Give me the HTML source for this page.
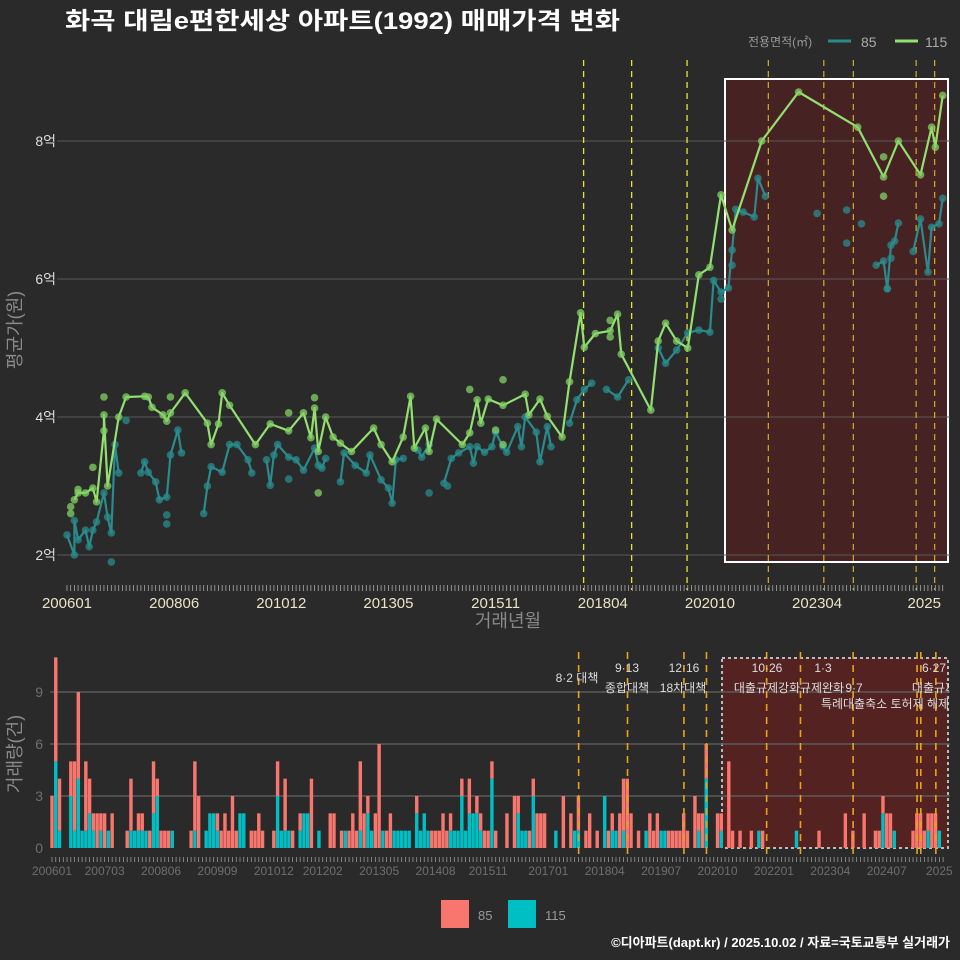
<!DOCTYPE html>
<html><head><meta charset="utf-8">
<style>
html,body{margin:0;padding:0;background:#2b2a2b;}
svg{display:block;font-family:"Liberation Sans","Noto Sans CJK KR",sans-serif;}
</style></head>
<body>
<svg id="chart" width="960" height="960" viewBox="0 0 960 960" xmlns="http://www.w3.org/2000/svg">
<defs><clipPath id="botClip"><rect x="0" y="640" width="949" height="240"/></clipPath></defs>
<rect x="0" y="0" width="960" height="960" fill="#2b2a2b"/>
<text x="65" y="29" fill="#ffffff" font-size="24" font-weight="bold" textLength="555" lengthAdjust="spacingAndGlyphs">화곡 대림e편한세상 아파트(1992) 매매가격 변화</text>
<g>
<text x="748" y="46" fill="#999" font-size="12">전용면적(㎡)</text>
<line x1="828" y1="41" x2="851" y2="41" stroke="#2a8a8c" stroke-width="3"/>
<text x="861" y="47" fill="#aaa" font-size="14">85</text>
<line x1="895" y1="41" x2="918" y2="41" stroke="#92e070" stroke-width="3"/>
<text x="925" y="47" fill="#aaa" font-size="14">115</text>
</g>
<g id="topPanel"></g>
<g id="botPanel"></g>
<g id="botLabels" clip-path="url(#botClip)"></g>
<g>
<rect x="441" y="900" width="28" height="28" fill="#f8766d"/>
<text x="478" y="920" fill="#999" font-size="13">85</text>
<rect x="508" y="900" width="28" height="28" fill="#00bfc4"/>
<text x="545" y="920" fill="#999" font-size="13">115</text>
</g>
<text x="950" y="947" text-anchor="end" fill="#ffffff" font-size="13" font-weight="bold">©디아파트(dapt.kr) / 2025.10.02 / 자료=국토교통부 실거래가</text>
</svg>
<script>
// ---- data (months = months since 2006-01) ----
const priceTicks = [2, 4, 6, 8];
const priceTickLabels = ["2억", "4억", "6억", "8억"];
const topXLabelMonths = [0, 29, 58, 87, 116, 145, 174, 203, 232];
const topXLabels = ["200601","200806","201012","201305","201511","201804","202010","202304","2025"];
const greenMonths = [2,3,5,7,8,10,10,11,14,16,21,22,23,26,27,28,32,38,39,41,42,44,51,55,60,64,66,67,68,70,72,74,77,83,85,88,91,93,94,97,98,100,107,109,111,112,114,118,124,125,128,130,134,136,139,140,143,147,149,150,158,160,162,165,168,171,174,177,180,188,198,214,221,225,231,234,235,237];
const greenValues = [2.8,2.9,2.9,2.97,2.77,3.8,4.03,3.0,4.0,4.29,4.3,4.29,4.14,4.03,3.94,4.06,4.35,3.91,3.6,3.9,4.35,4.17,3.6,3.9,3.8,4.06,3.7,4.13,3.5,4.0,3.71,3.62,3.5,3.84,3.6,3.35,3.71,4.3,3.55,3.84,3.5,3.97,3.6,3.77,4.25,3.91,4.26,4.17,4.33,4.03,4.26,4.01,3.71,4.51,5.51,5.01,5.21,5.25,5.49,4.91,4.1,5.1,5.36,5.1,5.0,6.06,6.17,7.22,6.71,8.0,8.71,8.2,7.48,8.0,7.51,8.2,7.91,8.66];
const greenExtraMonths = [10,7,28,67,68,60,109,118,118,116,147,147,221,221,1,3,1];
const greenExtraValues = [4.29,3.27,4.29,4.28,2.9,4.06,4.4,4.54,3.6,3.81,5.4,5.16,7.77,7.2,2.6,2.95,2.7];
const tealMonths = [0,2,2,3,5,6,7,8,10,11,12,13,14,20,21,22,24,25,27,28,30,31,37,38,39,42,44,46,49,50,54,55,56,57,60,62,64,67,68,69,70,74,75,78,81,82,85,87,88,89,91,95,96,98,102,104,106,109,110,111,113,115,116,118,119,122,123,124,127,128,130,131,136,138,140,142,146,149,152,160,162,165,168,171,174,175,177,179,180,181,183,186,187,189,203,211,215,219,221,222,223,224,225,229,231,233,234,236,237];
const tealValues = [2.29,2.0,2.5,2.22,2.36,2.12,2.36,2.48,2.9,2.55,2.32,3.6,3.19,3.19,3.35,3.2,3.06,2.8,2.84,3.45,3.81,3.48,2.6,3.0,3.28,3.2,3.6,3.6,3.38,3.19,3.38,3.01,3.45,3.6,3.42,3.38,3.23,3.55,3.3,3.26,3.4,3.06,3.48,3.3,3.19,3.45,3.09,2.97,2.75,3.38,3.4,3.52,3.42,3.6,3.04,3.4,3.48,3.57,3.33,3.57,3.49,3.57,3.78,3.57,3.49,3.86,3.57,4.0,3.78,3.35,3.86,3.57,3.91,4.25,4.4,4.49,4.4,4.29,4.54,5.0,4.78,4.97,5.22,5.26,5.23,5.98,5.81,5.87,6.42,7.01,6.97,6.9,7.46,7.2,6.95,6.52,6.8,6.2,6.26,5.86,6.49,6.55,6.81,6.4,6.87,6.1,6.75,6.8,7.17];
const tealExtraMonths = [12,16,27,27,60,98,103,177,180,211,222,223];
const tealExtraValues = [1.9,3.95,2.58,2.45,3.1,2.9,3.0,5.71,6.2,7.0,5.86,6.3];
const policyMonthsTop = [139,152,167,189,204,212,229,234];
const volMonths = [0,1,2,5,6,7,8,9,10,11,12,13,14,15,16,
20,21,22,23,24,25,26,27,28,29,30,31,32,
37,38,39,41,42,43,44,45,46,47,48,49,50,51,53,54,55,56,59,60,61,62,63,64,66,67,68,69,71,
74,75,77,78,79,80,81,82,83,84,85,86,87,88,89,90,91,92,93,94,95,97,98,99,100,101,102,103,104,105,106,107,108,109,110,111,112,113,114,115,116,117,118,121,123,124,125,126,127,128,129,130,131,134,136,138,139,140,142,143,145,147,148,149,150,151,152,153,154,156,158,159,160,161,162,163,164,165,166,167,168,169,171,172,173,174,177,178,180,181,183,186,188,189,198,204,211,213,216,219,220,221,222,223,224,229,230,231,232,233,234,235,236];
const vol85 = [3,6,3,2,4,5,0,4,2,1,2,1,2,0,2,
1,3,0,1,1,0,1,3,1,1,1,1,0,
1,4,3,0,0,0,1,1,2,1,3,1,0,0,1,1,2,1,1,2,0,3,0,1,1,0,0,4,0,
2,2,1,0,1,2,1,4,2,1,0,2,6,0,1,2,0,0,0,0,0,1,0,0,0,1,1,1,2,1,1,0,0,1,0,2,0,1,1,1,1,1,1,2,3,1,0,0,1,1,2,2,2,0,3,2,0,2,1,2,1,0,1,1,0,2,3,4,2,1,0,2,1,2,0,0,1,1,1,1,2,1,3,1,2,2,2,1,5,1,1,1,0,1,0,1,2,1,2,1,1,1,2,2,0,1,2,2,1,1,2,2,0];
const vol115 = [0,5,1,3,1,4,1,1,2,1,0,1,0,1,0,
0,1,1,1,1,1,0,2,3,0,0,0,1,
0,1,0,1,2,2,1,0,0,0,0,0,2,2,0,0,0,0,0,3,1,1,1,0,1,2,2,0,1,
0,0,0,1,0,0,0,1,0,2,1,0,0,1,0,0,1,1,1,1,1,2,1,2,1,0,0,0,0,0,1,1,1,3,1,2,2,2,1,0,0,4,0,0,0,2,1,1,0,3,0,0,0,1,0,0,1,1,0,0,0,3,0,1,1,0,1,0,0,0,1,0,0,0,1,1,0,0,0,0,0,0,0,1,0,4,0,1,0,0,0,0,1,0,1,0,0,0,0,0,0,2,0,0,1,0,0,0,0,1,0,0,1];
const volTicks = [0,3,6,9];
const botXLabelMonths = [0,14,29,44,59,72,87,102,116,132,147,162,177,192,207,222,236];
const botXLabels = ["200601","200703","200806","200909","201012","201202","201305","201408","201511","201701","201804","201907","202010","202201","202304","202407","2025"];
const policyMonthsBot = [139,152,167,173,189,198,212,229,230,234];
const policyTexts = ["8·2 대책","9·13","종합대책","12·16","18차대책","10·26","대출규제강화","1·3","규제완화","9·7","특례대출축소 토허제 해제","6·27","대출규제"];
const policyTextPos = [[577,682],[627,672],[627,692],[684,672],[683,692],[767,672],[767,692],[823,672],[822,692],[854,692],[885,708],[934,672],[934,692]];

const NS = "http://www.w3.org/2000/svg";
function mk(parent, tag, attrs, text) {
  const e = document.createElementNS(NS, tag);
  for (const k in attrs) e.setAttribute(k, attrs[k]);
  if (text !== undefined) e.textContent = text;
  parent.appendChild(e);
  return e;
}
const tx = m => 67 + m * 3.695;
const ty = v => 555 - (v - 2) * 69;
const bx = m => 52 + m * 3.76;
const by = c => 848 - c * 17.33;

const topG = document.getElementById("topPanel");
let hr = mk(topG, "rect", {x:725, y:79, width:223, height:483, fill:"rgba(110,25,25,0.42)", stroke:"#ffffff", "stroke-width":2});


priceTicks.forEach((v, i) => {
  const g = mk(topG, "line", {x1:57, x2:950, y1:ty(v), y2:ty(v), stroke:"#5a5a5a", "stroke-width":1});
  
  
  const t = mk(topG, "text", {x:56, y:ty(v)+5, "text-anchor":"end", fill:"#dddddd", "font-size":14}, priceTickLabels[i]);
  
  
});
policyMonthsTop.forEach(m => {
  const inBox = tx(m) > 725;
  const l = mk(topG, "line", {x1:tx(m)+3, x2:tx(m)+3, y1:60, y2:590, stroke: inBox ? "#c8a428" : "#e6e62a", "stroke-width":1.3, "stroke-dasharray":"6,5"});
  
  
});
for (let m = 0; m <= 237; m++) {
  const t = mk(topG, "line", {x1:tx(m), x2:tx(m), y1:585, y2:591, stroke:"#aaaaaa", "stroke-width":0.8});
  
  
}
topXLabelMonths.forEach((m, i) => {
  const t = mk(topG, "text", {x:tx(m), y:608, "text-anchor":"middle", fill:"#e8e4c4", "font-size":15}, topXLabels[i]);
  
  
});
let xt = mk(topG, "text", {x:508, y:627, "text-anchor":"middle", fill:"#8a8a8a", "font-size":18}, "거래년월");


let yt = mk(topG, "text", {x:0, y:0, transform:"translate(21,330) rotate(-90)", "text-anchor":"middle", fill:"#8a8a8a", "font-size":18}, "평균가(원)");



function drawSeries(months, vals, color, ptColor, name, connectAll) {
  let d = "";
  for (let i = 0; i < months.length; i++) {
    const x = tx(months[i]), y = ty(vals[i]);
    const join = i > 0 && (connectAll || months[i] - months[i-1] <= 3);
    d += (join ? "L" : "M") + x.toFixed(1) + "," + y.toFixed(1);
  }
  const p = mk(topG, "path", {d:d, fill:"none", stroke:color, "stroke-width":2.2, "stroke-linejoin":"round"});
  
  
  months.forEach((m, i) => {
    const c = mk(topG, "circle", {cx:tx(m), cy:ty(vals[i]), r:3.8, fill:ptColor});
    
    
  });
}
function drawExtra(months, vals, ptColor, name) {
  months.forEach((m, i) => {
    const c = mk(topG, "circle", {cx:tx(m), cy:ty(vals[i]), r:3.8, fill:ptColor});
    
    
  });
}
drawExtra(tealExtraMonths, tealExtraValues, "rgba(40,140,140,0.75)", "area-85");
drawSeries(tealMonths, tealValues, "#2a8a8c", "rgba(40,140,140,0.75)", "area-85", false);
drawExtra(greenExtraMonths, greenExtraValues, "rgba(130,210,100,0.75)", "area-115");
drawSeries(greenMonths, greenValues, "#92e070", "rgba(130,210,100,0.75)", "area-115", true);

// ---- bottom chart ----
const botG = document.getElementById("botPanel");
const labG = document.getElementById("botLabels");
let br = mk(botG, "rect", {x:722, y:658, width:226, height:190, fill:"rgba(120,28,28,0.55)", stroke:"#bbbbbb", "stroke-width":2, "stroke-dasharray":"3,3"});


volTicks.forEach(c => {
  if (c > 0) {
    const g = mk(botG, "line", {x1:50, x2:950, y1:by(c), y2:by(c), stroke:"#5a5a5a", "stroke-width":1.5});
    
    
  }
  const t = mk(botG, "text", {x:43, y:by(c)+5, "text-anchor":"end", fill:"#6e6e6e", "font-size":14}, String(c));
  
  
});
volMonths.forEach((m, i) => {
  const x = bx(m) - 1.7;
  const c115 = vol115[i] || 0, c85 = vol85[i] || 0;
  if (c115 > 0) {
    const r = mk(botG, "rect", {x:x, y:by(c115), width:3.4, height:by(0)-by(c115), fill:"#00bfc4"});
    
    
  }
  if (c85 > 0) {
    const r = mk(botG, "rect", {x:x, y:by(c115+c85), width:3.4, height:by(c115)-by(c115+c85), fill:"#f8766d"});
    
    
  }
});
policyMonthsBot.forEach(m => {
  const x = bx(m) + 4;
  const l = mk(botG, "line", {x1:x, x2:x, y1:652, y2:856, stroke:"#e8a417", "stroke-width":1.6, "stroke-dasharray":"7,6"});
  
  
});
policyTexts.forEach((s, i) => {
  const t = mk(labG, "text", {x:policyTextPos[i][0], y:policyTextPos[i][1], "text-anchor":"middle", fill:"#dddddd", "font-size":12}, s);
  
  
});
for (let m = 0; m <= 237; m++) {
  const t = mk(botG, "line", {x1:bx(m), x2:bx(m), y1:857, y2:862, stroke:"#999999", "stroke-width":0.8});
  
  
}
botXLabelMonths.forEach((m, i) => {
  const t = mk(botG, "text", {x:bx(m), y:875, "text-anchor":"middle", fill:"#6e6e6e", "font-size":12}, botXLabels[i]);
  
  
});
let vt = mk(botG, "text", {x:0, y:0, transform:"translate(21,754) rotate(-90)", "text-anchor":"middle", fill:"#8a8a8a", "font-size":18}, "거래량(건)");


</script>
</body></html>
